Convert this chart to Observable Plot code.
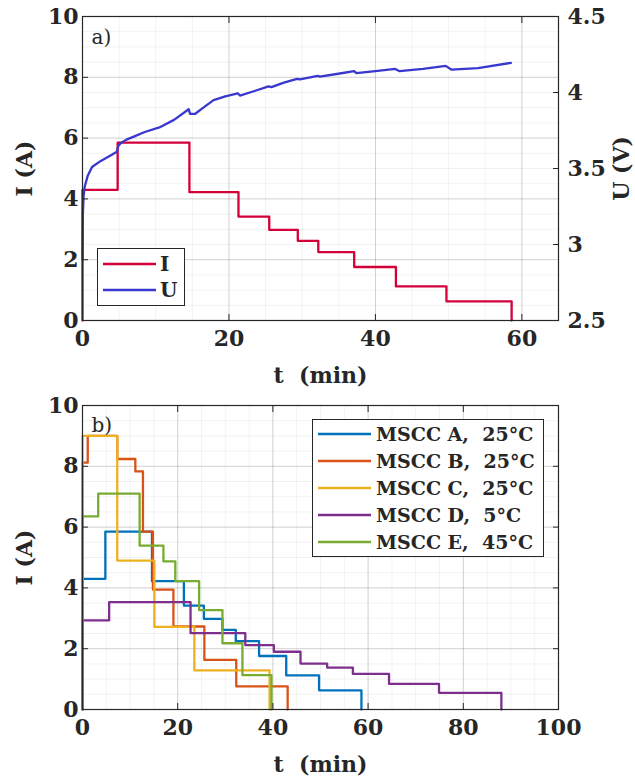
<!DOCTYPE html>
<html>
<head>
<meta charset="utf-8">
<script src="https://cdn.jsdelivr.net/npm/d3@7"></script>
<script src="https://cdn.jsdelivr.net/npm/@observablehq/plot@0.6"></script>
<style>
  html, body { margin: 0; padding: 0; background: #fff; }
  #wrap { position: relative; width: 635px; height: 778px; overflow: hidden; }
  #wrap svg { display: block; }
  #wrap svg, #wrap svg text { font-family: "DejaVu Serif", serif !important; }
  .legend { position: absolute; background: #fff; border: 1px solid #262626; box-sizing: border-box;
            font-family: "DejaVu Serif", serif; font-weight: bold; color: #262626; }
  .legend .row { position: absolute; left: 0; height: 0; }
  .legend .row svg { position: absolute; overflow: visible; }
  .legend .row span { position: absolute; white-space: nowrap; line-height: 1; transform: translateY(-50%); }
</style>
</head>
<body>
<div id="wrap"></div>
<script>
// ---------- Panel a) : MSCC A current & voltage ----------
const topT = [0, 0, 4.8, 14.6, 21.3, 25.5, 29.4, 32.2, 37.1, 42.8, 49.7, 58.6];
const topI = [0, 4.3, 5.85, 4.22, 3.42, 2.98, 2.62, 2.25, 1.76, 1.12, 0.63, 0];

const uT = [0, 0.05, 0.15, 0.3, 0.7, 1.3, 2.5, 4.0, 4.7, 4.9, 5.3, 6.0, 7.0, 8.5, 10.5, 12.5, 14.5, 14.7, 15.4, 16.5, 17.9, 19.5, 21.2, 21.5, 23.5, 25.4, 25.8, 27.5, 29.3, 29.7, 32.1, 32.4, 34.5, 37.1, 37.4, 40.0, 42.7, 43.3, 46.5, 49.6, 50.4, 54.0, 58.5];
const uV = [2.9, 3.2, 3.32, 3.38, 3.45, 3.51, 3.55, 3.59, 3.61, 3.65, 3.67, 3.69, 3.71, 3.74, 3.77, 3.82, 3.89, 3.86, 3.86, 3.9, 3.95, 3.975, 3.995, 3.98, 4.01, 4.04, 4.035, 4.065, 4.09, 4.086, 4.11, 4.105, 4.12, 4.14, 4.127, 4.14, 4.155, 4.14, 4.155, 4.175, 4.15, 4.16, 4.195];

const xTicksTop = [0, 20, 40, 60];
const yTicksI = [0, 2, 4, 6, 8, 10];
const uTicks = [2.5, 3, 3.5, 4, 4.5];
const uRange = [2.5, 4.5];

// ---------- Panel b) : five MSCC profiles ----------
const seriesNames = ["MSCC A", "MSCC B", "MSCC C", "MSCC D", "MSCC E"];
const seriesTemps = ["25°C", "25°C", "25°C", "5°C", "45°C"];
const seriesColors = ["#0072BD", "#D95319", "#EDB120", "#7E2F8E", "#77AC30"];
const tA = [0, 0, 4.8, 14.6, 21.3, 25.5, 29.4, 32.2, 37.1, 42.8, 49.7, 58.6];
const iA = [0, 4.3, 5.85, 4.22, 3.42, 2.98, 2.62, 2.25, 1.76, 1.12, 0.63, 0];
const tB = [0, 0, 1.1, 7.3, 11.1, 12.7, 14.8, 19.1, 25.6, 32.3, 43.1];
const iB = [0, 8.12, 9.0, 8.24, 7.83, 5.85, 3.94, 2.73, 1.63, 0.76, 0];
const tC = [0, 0, 7.3, 15.1, 23.5, 39.3];
const iC = [0, 9.0, 4.9, 2.72, 1.29, 0];
const tD = [0, 0, 5.6, 22.7, 34.2, 40.2, 45.8, 51.4, 56.8, 64.4, 74.9, 88.0];
const iD = [0, 2.93, 3.53, 2.51, 2.12, 1.9, 1.51, 1.38, 1.17, 0.84, 0.55, 0];
const tE = [0, 0, 3.3, 12.0, 17.0, 19.5, 24.5, 29.4, 33.6, 39.7];
const iE = [0, 6.35, 7.1, 5.39, 4.87, 4.22, 3.27, 2.18, 1.13, 0];
const xTicksBottom = [0, 20, 40, 60, 80, 100];

// ---------- build tables ----------
const topIData = topT.map((t, k) => ({t, I: topI[k]}));
const topUData = uT.map((t, k) => ({t, U: uV[k]}));
const toI = u => (u - uRange[0]) / (uRange[1] - uRange[0]) * 10;  // map voltage onto left scale
const allT = [tA, tB, tC, tD, tE], allI = [iA, iB, iC, iD, iE];
const bottomData = allT.flatMap((ts, s) => ts.map((t, k) => ({series: seriesNames[s], t, I: allI[s][k]})));

const W = 635, H = 389;
const common = {
  width: W, height: H, marginLeft: 82, marginRight: 77, marginTop: 16, marginBottom: 69,
  style: {"font-family": "'DejaVu Serif', serif", "font-weight": "bold", "font-size": "22px", "color": "#262626", "background": "white", "overflow": "visible"}
};
const red = "#D4003A", blue = "#3838D0", axisCol = "#262626";

function grids(xMax, xStep) {
  return [
    Plot.gridX(d3.range(0, xMax + 0.001, xStep / 4), {stroke: "#000", strokeOpacity: 0.05}),
    Plot.gridY(d3.range(0, 10.001, 0.5), {stroke: "#000", strokeOpacity: 0.05}),
    Plot.gridX(d3.range(0, xMax + 0.001, xStep), {stroke: "#000", strokeOpacity: 0.14}),
    Plot.gridY(yTicksI, {stroke: "#000", strokeOpacity: 0.14})
  ];
}

const panelA = Plot.plot({
  ...common,
  x: {domain: [0, 65]},
  y: {domain: [0, 10]},
  marks: [
    ...grids(65, 20),
    Plot.line(topIData, {x: "t", y: "I", curve: "step-after", stroke: red, strokeWidth: 2.3}),
    Plot.line(topUData, {x: "t", y: d => toI(d.U), stroke: blue, strokeWidth: 2.3}),
    Plot.frame({stroke: axisCol, strokeWidth: 1.2}),
    Plot.axisX(xTicksTop, {anchor: "bottom", tickSize: -6, tickPadding: 16, stroke: axisCol, label: "t  (min)", labelAnchor: "center", labelArrow: "none", labelOffset: 62}),
    Plot.axisX(xTicksTop, {anchor: "top", tickSize: -6, tickFormat: () => "", stroke: axisCol, label: null}),
    Plot.axisY(yTicksI, {anchor: "left", tickSize: -6, tickPadding: 10, stroke: axisCol, label: "I (A)", labelAnchor: "center", labelArrow: "none", labelOffset: 66}),
    Plot.axisY(uTicks.map(toI), {anchor: "right", tickSize: -6, tickPadding: 15, stroke: axisCol, tickFormat: d => String(+(uRange[0] + d / 10 * (uRange[1] - uRange[0])).toFixed(1)), label: "U (V)", labelAnchor: "center", labelArrow: "none", labelOffset: 70}),
    Plot.text(["a)"], {frameAnchor: "top-left", dx: 9, dy: 13, textAnchor: "start", lineAnchor: "top", fontWeight: "normal", fontSize: 20, fill: axisCol})
  ]
});

const panelB = Plot.plot({
  ...common,
  x: {domain: [0, 100]},
  y: {domain: [0, 10]},
  color: {domain: seriesNames, range: seriesColors},
  marks: [
    ...grids(100, 20),
    Plot.line(bottomData, {x: "t", y: "I", z: "series", stroke: "series", curve: "step-after", strokeWidth: 2.3}),
    Plot.frame({stroke: axisCol, strokeWidth: 1.2}),
    Plot.axisX(xTicksBottom, {anchor: "bottom", tickSize: -6, tickPadding: 16, stroke: axisCol, label: "t  (min)", labelAnchor: "center", labelArrow: "none", labelOffset: 62}),
    Plot.axisX(xTicksBottom, {anchor: "top", tickSize: -6, tickFormat: () => "", stroke: axisCol, label: null}),
    Plot.axisY(yTicksI, {anchor: "left", tickSize: -6, tickPadding: 10, stroke: axisCol, label: "I (A)", labelAnchor: "center", labelArrow: "none", labelOffset: 66}),
    Plot.axisY(yTicksI, {anchor: "right", tickSize: -6, tickFormat: () => "", stroke: axisCol, label: null}),
    Plot.text(["b)"], {frameAnchor: "top-left", dx: 9, dy: 12, textAnchor: "start", lineAnchor: "top", fontWeight: "normal", fontSize: 20, fill: axisCol})
  ]
});

const wrap = document.getElementById("wrap");
wrap.appendChild(panelA);
wrap.appendChild(panelB);

// ---------- legends ----------
function legend(box, rows, opts) {
  const div = document.createElement("div");
  div.className = "legend";
  Object.assign(div.style, {left: box[0] + "px", top: box[1] + "px", width: (box[2] - box[0]) + "px", height: (box[3] - box[1]) + "px", fontSize: opts.fontSize + "px"});
  rows.forEach((r, k) => {
    const row = document.createElement("div");
    row.className = "row";
    row.style.top = (opts.firstY - box[1] + k * opts.dy - 1) + "px";
    const s = document.createElementNS("http://www.w3.org/2000/svg", "svg");
    s.setAttribute("width", opts.lineW); s.setAttribute("height", 4);
    s.style.left = (opts.lineX - box[0] - 1) + "px"; s.style.top = "-2px";
    const ln = document.createElementNS("http://www.w3.org/2000/svg", "line");
    ln.setAttribute("x1", 0); ln.setAttribute("x2", opts.lineW); ln.setAttribute("y1", 2); ln.setAttribute("y2", 2);
    ln.setAttribute("stroke", r.color); ln.setAttribute("stroke-width", 2.3);
    s.appendChild(ln); row.appendChild(s);
    const sp = document.createElement("span");
    sp.style.left = (opts.textX - box[0] - 1) + "px";
    sp.innerHTML = r.label;
    row.appendChild(sp);
    div.appendChild(row);
  });
  wrap.appendChild(div);
}
legend([97, 248, 185, 306], [{label: "I", color: red}, {label: "U", color: blue}],
       {fontSize: 20, firstY: 263.5, dy: 26.5, lineX: 103, lineW: 53, textX: 160});
legend([312, 419, 544, 557], seriesNames.map((n, k) => ({label: n + ",&nbsp; " + seriesTemps[k], color: seriesColors[k]})),
       {fontSize: 19, firstY: 433.5, dy: 27, lineX: 318, lineW: 53, textX: 376});
</script>
</body>
</html>
